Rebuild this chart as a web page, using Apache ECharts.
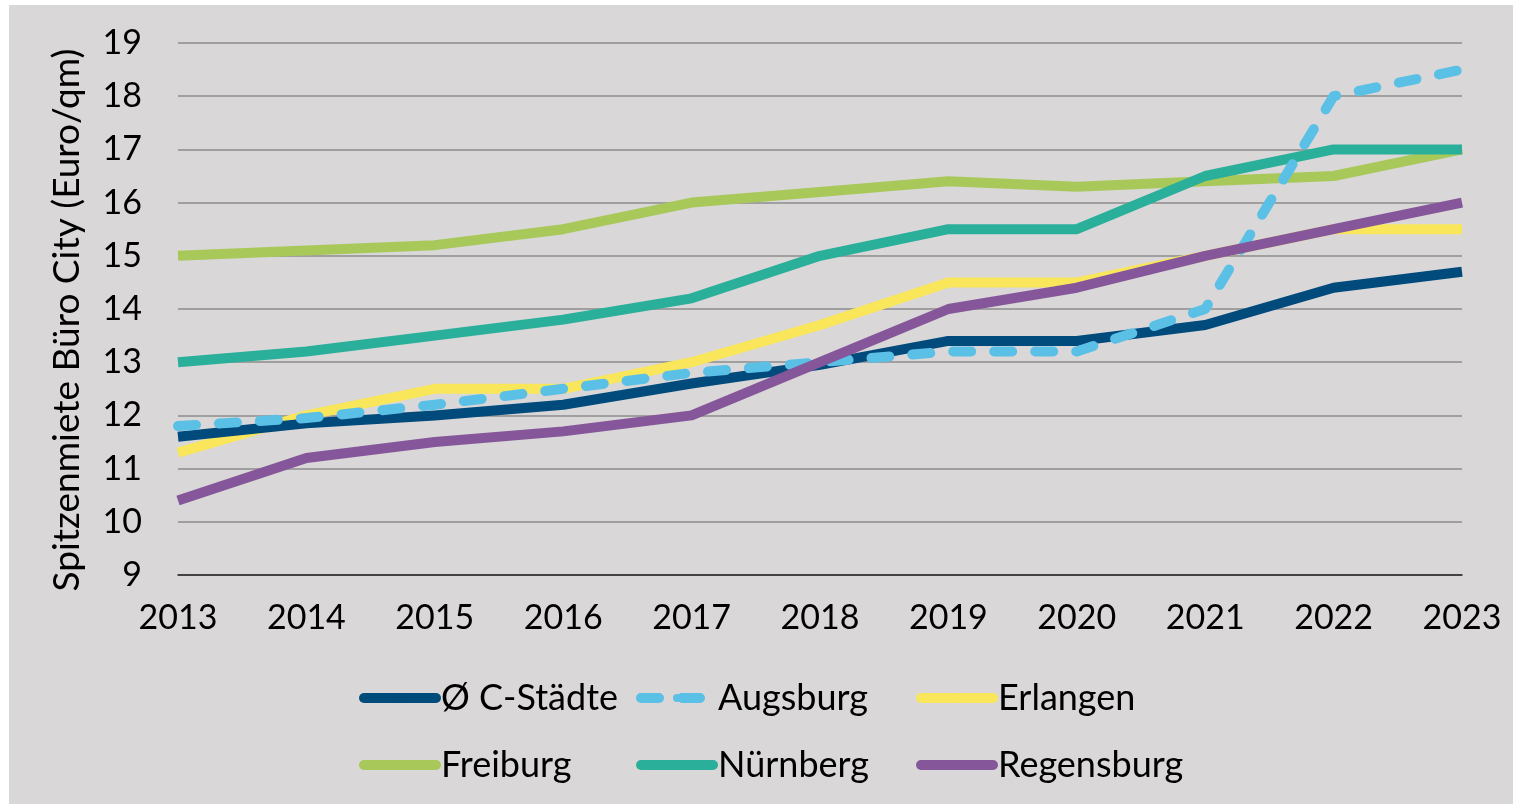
<!DOCTYPE html>
<html>
<head>
<meta charset="utf-8">
<script src="https://cdn.jsdelivr.net/npm/echarts@6/dist/echarts.min.js"></script>
<style>
html,body{margin:0;padding:0;background:#ffffff;}
#chart{position:absolute;left:9px;top:5px;width:1504px;height:799px;background:#d9d7d8;}
</style>
</head>
<body>
<div id="chart"></div>
<script>
const years = ['2013','2014','2015','2016','2017','2018','2019','2020','2021','2022','2023'];
const cStaedte   = [11.6, 11.85, 12.0, 12.2, 12.6, 12.95, 13.4, 13.4, 13.7, 14.4, 14.7];
const augsburg   = [11.8, 11.95, 12.2, 12.5, 12.8, 13.0, 13.2, 13.2, 14.0, 18.0, 18.5];
const erlangen   = [11.3, 12.0, 12.5, 12.5, 13.0, 13.7, 14.5, 14.5, 15.0, 15.5, 15.5];
const freiburg   = [15.0, 15.1, 15.2, 15.5, 16.0, 16.2, 16.4, 16.3, 16.4, 16.5, 17.0];
const nuernberg  = [13.0, 13.2, 13.5, 13.8, 14.2, 15.0, 15.5, 15.5, 16.5, 17.0, 17.0];
const regensburg = [10.4, 11.2, 11.5, 11.7, 12.0, 13.0, 14.0, 14.4, 15.0, 15.5, 16.0];
const yTicks = [9, 10, 11, 12, 13, 14, 15, 16, 17, 18, 19];

const FONT = 'Lato';
const seriesDefs = [
  {name: 'Ø C-Städte', data: cStaedte, color: '#004a7c'},
  {name: 'Augsburg', data: augsburg, color: '#5bc0e6', dash: [18, 23]},
  {name: 'Erlangen', data: erlangen, color: '#f9e65a'},
  {name: 'Freiburg', data: freiburg, color: '#a8c95a'},
  {name: 'Nürnberg', data: nuernberg, color: '#2aaf9a'},
  {name: 'Regensburg', data: regensburg, color: '#85579a'}
];
const drawOrder = ['Freiburg','Nürnberg','Erlangen','Ø C-Städte','Augsburg','Regensburg'];
const legendCols = [350, 627, 907];
const legendRows = [675, 742];

const chart = echarts.init(document.getElementById('chart'), null, {renderer: 'canvas'});
const legends = seriesDefs.map((s, i) => ({
  orient: 'horizontal',
  left: legendCols[i % 3],
  top: legendRows[Math.floor(i / 3)],
  padding: 0,
  itemWidth: 72,
  itemHeight: 10,
  lineStyle: {width: 10, cap: 'round'},
  textStyle: {fontFamily: FONT, fontSize: 36, color: '#000'},
  selectedMode: false,
  data: [s.name]
}));
const option = {
  animation: false,
  backgroundColor: '#d9d7d8',
  textStyle: {fontFamily: FONT},
  grid: {left: 169, right: 51, top: 38, bottom: 229, containLabel: false},
  legend: legends,
  xAxis: {
    type: 'category',
    data: years,
    boundaryGap: false,
    axisLine: {show: true, lineStyle: {color: '#262626', width: 1.5}},
    axisTick: {show: false},
    axisLabel: {fontFamily: FONT, fontSize: 34, color: '#000', margin: 26},
    splitLine: {show: false}
  },
  yAxis: {
    type: 'value',
    min: yTicks[0],
    max: yTicks[yTicks.length - 1],
    interval: 1,
    name: 'Spitzenmiete Büro City (Euro/qm)',
    nameLocation: 'middle',
    nameRotate: 90,
    nameGap: 92,
    nameTextStyle: {fontFamily: FONT, fontSize: 37, color: '#000', padding: [0, 22, 0, 0]},
    axisLine: {show: false},
    axisTick: {show: false},
    axisLabel: {fontFamily: FONT, fontSize: 34, color: '#000', margin: 36},
    splitLine: {show: true, lineStyle: {color: '#8c8c8c', width: 1.5}}
  },
  series: drawOrder.map((n, i) => {
    const d = seriesDefs.find(s => s.name === n);
    return {
      name: d.name,
      type: 'line',
      data: d.data,
      symbol: 'none',
      smooth: false,
      z: 2 + i,
      color: d.color,
      lineStyle: {width: 10, color: d.color, type: d.dash ? d.dash : 'solid', cap: d.dash ? 'round' : 'butt', join: 'round'}
    };
  })
};
chart.setOption(option);
</script>
</body>
</html>
